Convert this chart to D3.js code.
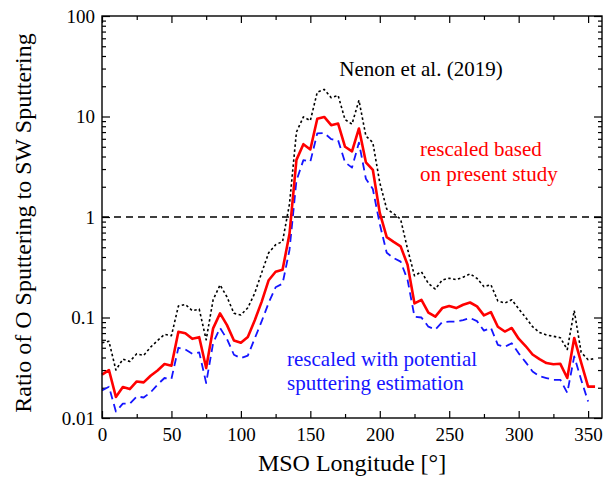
<!DOCTYPE html>
<html>
<head>
<meta charset="utf-8">
<script src="https://cdn.jsdelivr.net/npm/d3@7"></script>
<style>
  html, body { margin: 0; padding: 0; background: #fff; }
  svg { display: block; }
  svg text { font-family: "Liberation Serif", "Times New Roman", "DejaVu Serif", serif; }
  .tick text { font-size: 19px; fill: #000; }
  .tick line { stroke: #000; stroke-width: 1.2; }
</style>
</head>
<body>
<svg id="chart" width="611" height="487"></svg>
<script>
  // longitude (deg) and the three curves
  const longitude = [0, 5, 10, 15, 20, 25, 30, 35, 40, 45, 50, 55, 60, 65, 70, 75, 80, 85, 90, 95,
    100, 105, 110, 115, 120, 125, 130, 135, 140, 145, 150, 155, 160, 165, 170, 175, 180, 185, 190, 195,
    200, 205, 210, 215, 220, 225, 230, 235, 240, 245, 250, 255, 260, 265, 270, 275, 280, 285, 290, 295,
    300, 305, 310, 315, 320, 325, 330, 335, 340, 345, 350, 355];

  const nenon = [0.056, 0.058, 0.030, 0.0385, 0.0365, 0.0435, 0.042, 0.0507, 0.059, 0.068, 0.066, 0.130,
    0.135, 0.117, 0.121, 0.060, 0.150, 0.211, 0.160, 0.110, 0.106, 0.125, 0.175, 0.28, 0.44, 0.53, 0.57,
    1.35, 7.0, 9.9, 9.1, 17.5, 18.6, 15.4, 16.2, 9.3, 8.4, 14.5, 6.4, 5.5, 2.2, 1.2, 1.08, 0.95, 0.48,
    0.26, 0.285, 0.218, 0.192, 0.236, 0.246, 0.238, 0.252, 0.272, 0.245, 0.203, 0.212, 0.146, 0.139,
    0.150, 0.122, 0.100, 0.081, 0.071, 0.067, 0.065, 0.063, 0.048, 0.117, 0.045, 0.038, 0.039];

  const presentStudy = [0.027, 0.030, 0.0162, 0.0203, 0.0194, 0.0231, 0.0226, 0.0263, 0.0297, 0.0344,
    0.0331, 0.072, 0.0698, 0.0613, 0.0637, 0.0314, 0.078, 0.110, 0.084, 0.059, 0.056, 0.064, 0.094, 0.144,
    0.235, 0.285, 0.298, 0.68, 3.7, 5.3, 4.7, 9.5, 9.9, 8.2, 8.5, 5.0, 4.5, 7.6, 3.5, 2.95, 1.1, 0.63,
    0.565, 0.51, 0.335, 0.138, 0.150, 0.112, 0.102, 0.124, 0.130, 0.124, 0.134, 0.141, 0.129, 0.105,
    0.113, 0.081, 0.0725, 0.0786, 0.0615, 0.052, 0.0428, 0.0385, 0.0352, 0.0343, 0.0346, 0.025, 0.0626,
    0.0355, 0.0205, 0.0205];

  // this one stops at 350
  const potential = [0.0188, 0.0205, 0.0116, 0.0139, 0.0139, 0.0164, 0.0160, 0.0180, 0.0215, 0.0250,
    0.0245, 0.050, 0.048, 0.0436, 0.045, 0.0223, 0.0556, 0.0786, 0.061, 0.0426, 0.0394, 0.0418, 0.062,
    0.092, 0.14, 0.20, 0.217, 0.47, 2.3, 3.68, 3.55, 6.8, 6.85, 5.95, 5.8, 3.5, 3.1, 5.5, 2.4, 1.9, 0.85,
    0.44, 0.39, 0.36, 0.237, 0.102, 0.100, 0.081, 0.076, 0.090, 0.091, 0.091, 0.094, 0.099, 0.092, 0.074,
    0.079, 0.0535, 0.051, 0.0555, 0.044, 0.036, 0.029, 0.026, 0.025, 0.024, 0.024, 0.0178, 0.041, 0.024,
    0.0146];

  const xTicks = [0, 50, 100, 150, 200, 250, 300, 350];
  const xMinor = [25, 75, 125, 175, 225, 275, 325];
  const yTicks = [0.01, 0.1, 1, 10, 100];
  const yTickLabels = ["0.01", "0.1", "1", "10", "100"];

  const serif = "'Liberation Serif', 'Times New Roman', 'DejaVu Serif', serif";

  const svg = d3.select("#chart");
  const plot = { left: 102, right: 602, top: 16, bottom: 418 };

  const x = d3.scaleLinear().domain([0, 360]).range([plot.left, plot.right]);
  const y = d3.scaleLog().domain([0.01, 100]).range([plot.bottom, plot.top]);

  const yMinor = [];
  yTicks.slice(0, -1).forEach((d) => {
    for (let k = 2; k <= 9; k++) yMinor.push(d * k);
  });

  function addAxis(axis, tx, ty) {
    const g = svg.append("g").attr("transform", `translate(${tx},${ty})`).call(axis);
    g.select(".domain").remove();
    g.attr("font-family", serif).attr("font-size", 19);
    return g;
  }

  // x axes, ticks pointing in
  addAxis(d3.axisBottom(x).tickValues(xTicks).tickSize(-7).tickPadding(10).tickFormat(d3.format("d")), 0, plot.bottom);
  addAxis(d3.axisBottom(x).tickValues(xMinor).tickSize(-4).tickFormat(""), 0, plot.bottom);
  addAxis(d3.axisTop(x).tickValues(xTicks).tickSize(-7).tickFormat(""), 0, plot.top);
  addAxis(d3.axisTop(x).tickValues(xMinor).tickSize(-4).tickFormat(""), 0, plot.top);

  // y axes
  addAxis(d3.axisLeft(y).tickValues(yTicks).tickSize(-8).tickPadding(7)
    .tickFormat((d, i) => yTickLabels[i]), plot.left, 0);
  addAxis(d3.axisLeft(y).tickValues(yMinor).tickSize(-4).tickFormat(""), plot.left, 0);
  addAxis(d3.axisRight(y).tickValues(yTicks).tickSize(-8).tickFormat(""), plot.right, 0);
  addAxis(d3.axisRight(y).tickValues(yMinor).tickSize(-4).tickFormat(""), plot.right, 0);

  // reference line at ratio 1
  svg.append("line")
    .attr("x1", plot.left).attr("x2", plot.right)
    .attr("y1", y(1)).attr("y2", y(1))
    .attr("stroke", "#000").attr("stroke-width", 1.3)
    .attr("stroke-dasharray", "7,5");

  const line = d3.line()
    .x((d) => x(d[0]))
    .y((d) => y(d[1]));

  const series = [
    { values: nenon, color: "#000", width: 1.6, dash: "2.5,2.5" },
    { values: potential, color: "#1515ff", width: 1.8, dash: "8,5" },
    { values: presentStudy, color: "#ff0000", width: 2.6, dash: null },
  ];

  series.forEach((s) => {
    svg.append("path")
      .datum(s.values.map((v, i) => [longitude[i], v]))
      .attr("d", line)
      .attr("fill", "none")
      .attr("stroke", s.color)
      .attr("stroke-width", s.width)
      .attr("stroke-dasharray", s.dash)
      .attr("stroke-linejoin", "round");
  });

  // frame
  svg.append("rect")
    .attr("x", plot.left).attr("y", plot.top)
    .attr("width", plot.right - plot.left).attr("height", plot.bottom - plot.top)
    .attr("fill", "none").attr("stroke", "#000").attr("stroke-width", 1.4);

  // labels
  svg.append("text")
    .attr("x", (plot.left + plot.right) / 2).attr("y", 471)
    .attr("text-anchor", "middle").attr("font-size", 24).attr("font-family", serif)
    .text("MSO Longitude [°]");

  svg.append("text")
    .attr("transform", `translate(31,${(plot.top + plot.bottom) / 2 + 6}) rotate(-90)`)
    .attr("text-anchor", "middle").attr("font-size", 24).attr("font-family", serif)
    .text("Ratio of O Sputtering to SW Sputtering");

  svg.append("text")
    .attr("x", 421).attr("y", 76)
    .attr("text-anchor", "middle").attr("font-size", 21).attr("font-family", serif)
    .text("Nenon et al. (2019)");

  const redNote = svg.append("text").attr("font-size", 21).attr("font-family", serif).attr("fill", "#ff0000");
  redNote.append("tspan").attr("x", 420).attr("y", 156).text("rescaled based");
  redNote.append("tspan").attr("x", 420).attr("y", 181).text("on present study");

  const blueNote = svg.append("text").attr("font-size", 21).attr("font-family", serif).attr("fill", "#1515ff");
  blueNote.append("tspan").attr("x", 287).attr("y", 366).text("rescaled with potential");
  blueNote.append("tspan").attr("x", 287).attr("y", 390).text("sputtering estimation");
</script>
</body>
</html>
